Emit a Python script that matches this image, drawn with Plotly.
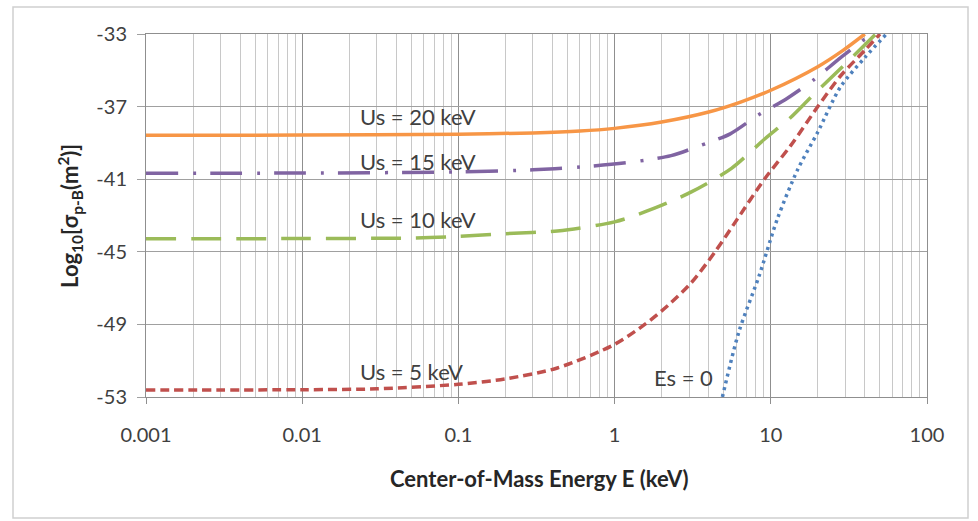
import math
import plotly.graph_objects as go

# ---- data ----
x_us20 = [0.001, 0.01, 0.1, 0.3, 0.6, 1, 2, 4, 6.4, 10, 20, 29, 40]
y_us20 = [-38.58, -38.57, -38.52, -38.45, -38.35, -38.2, -37.85, -37.3, -36.75, -36.1, -34.8, -33.9, -33.0]

x_us15 = [0.001, 0.01, 0.1, 0.3, 0.6, 1.3, 2.3, 3.4, 5.5, 8.2, 12.7, 19, 28, 44]
y_us15 = [-40.67, -40.66, -40.6, -40.48, -40.33, -40.05, -39.7, -39.2, -38.5, -37.5, -36.55, -35.5, -34.3, -33.0]

x_us10 = [0.001, 0.01, 0.05, 0.1, 0.2, 0.43, 1, 1.8, 3.1, 5.6, 9.1, 13.4, 18, 28, 47]
y_us10 = [-44.28, -44.27, -44.24, -44.15, -44.0, -43.85, -43.35, -42.6, -41.7, -40.4, -38.8, -37.6, -36.5, -34.9, -33.0]

x_us5 = [0.001, 0.01, 0.03, 0.1, 0.2, 0.43, 1, 1.56, 2.2, 3.1, 4.4, 6.1, 9.1, 13.4, 20, 28, 40, 50]
y_us5 = [-52.61, -52.6, -52.55, -52.3, -52.0, -51.4, -50.1, -49.0, -47.95, -46.7, -45.0, -43.2, -41.0, -39.15, -37.0, -35.3, -33.9, -33.0]

x_es0 = [4.9, 6.25, 8.4, 11, 14.8, 20, 28, 40, 55]
y_es0 = [-53, -49.4, -46.35, -43.2, -40.5, -38.4, -35.9, -34.3, -33.0]

x_tickvals = [0.001, 0.01, 0.1, 1, 10, 100]
x_ticktext = ["0.001", "0.01", "0.1", "1", "10", "100"]
y_tickvals = [-53, -49, -45, -41, -37, -33]
y_ticktext = ["-53", "-49", "-45", "-41", "-37", "-33"]

labels = ["Us = 20 keV", "Us = 15 keV", "Us = 10 keV", "Us = 5 keV", "Es = 0"]
label_x = [0.0229, 0.0229, 0.0229, 0.0229, 4.37]
label_y = [-37.55, -40.05, -43.2, -51.6, -51.95]

FONT = "Lato"
TXT = "#404040"

fig = go.Figure()

series = [
    (x_us20, y_us20, "#F79646", "solid"),
    (x_us15, y_us15, "#8064A2", "32px,15px,3px,14px"),
    (x_us10, y_us10, "#9BBB59", "30px,15px"),
    (x_us5, y_us5, "#C0504D", "9px,5px"),
    (x_es0, y_es0, "#4F81BD", "3px,4px"),
]
for xs, ys, col, dash in series:
    fig.add_trace(go.Scatter(
        x=xs, y=ys, mode="lines",
        line=dict(color=col, width=3.5, dash=dash, shape="spline", smoothing=0.8),
        showlegend=False, hoverinfo="skip",
    ))

for i, t in enumerate(labels):
    fig.add_annotation(
        x=math.log10(label_x[i]), y=label_y[i],
        xref="x", yref="y", text=t, showarrow=False,
        xanchor="right" if t.startswith("Es") else "left", yanchor="middle",
        font=dict(family=FONT, size=22, color=TXT),
    )

# axis titles
fig.add_annotation(
    x=-0.098, y=0.5, xref="paper", yref="paper", textangle=-90,
    text="<b>Log<sub>10</sub>[σ<sub>p-B</sub>(m<sup>2</sup>)]</b>", showarrow=False,
    xanchor="center", yanchor="middle",
    font=dict(family=FONT, size=22, color="#262626"),
)
fig.add_annotation(
    x=(539 - 146) / 781, y=(397 - 478) / 363, xref="paper", yref="paper",
    text="<b>Center-of-Mass Energy E (keV)</b>", showarrow=False,
    xanchor="center", yanchor="middle",
    font=dict(family=FONT, size=22, color="#262626"),
)

# outer chart border
fig.add_shape(
    type="rect", xref="paper", yref="paper",
    x0=(13 - 146) / 781, x1=(968 - 146) / 781,
    y0=(397 - 518) / 363, y1=(397 - 7) / 363,
    line=dict(color="#D0D0D0", width=1.5), fillcolor="rgba(0,0,0,0)", layer="below",
)

fig.update_xaxes(
    type="log", range=[-3, 2],
    tickvals=x_tickvals, ticktext=x_ticktext,
    showgrid=True, gridcolor="#8F8F8F", gridwidth=1,
    minor=dict(showgrid=True, gridcolor="#C8C8C8", gridwidth=1,
               tickvals=[m * 10 ** e for e in range(-3, 2) for m in range(2, 10)]),
    showline=True, linecolor="#8F8F8F", linewidth=1, mirror=True,
    ticks="outside", ticklen=6, tickcolor="#8F8F8F",
    tickfont=dict(family=FONT, size=20, color=TXT),
    ticklabelstandoff=14,
    zeroline=False,
)
fig.update_yaxes(
    range=[-53, -33], tickvals=y_tickvals, ticktext=y_ticktext,
    showgrid=True, gridcolor="#A0A0A0", gridwidth=1,
    showline=True, linecolor="#8F8F8F", linewidth=1, mirror=True,
    ticks="outside", ticklen=8, tickcolor="#A0A0A0",
    tickfont=dict(family=FONT, size=20, color=TXT),
    ticklabelstandoff=6,
    zeroline=False,
)

fig.update_layout(
    width=978, height=521,
    margin=dict(l=146, r=51, t=34, b=124),
    paper_bgcolor="white", plot_bgcolor="white",
    showlegend=False,
)

fig.write_html("out.html")
